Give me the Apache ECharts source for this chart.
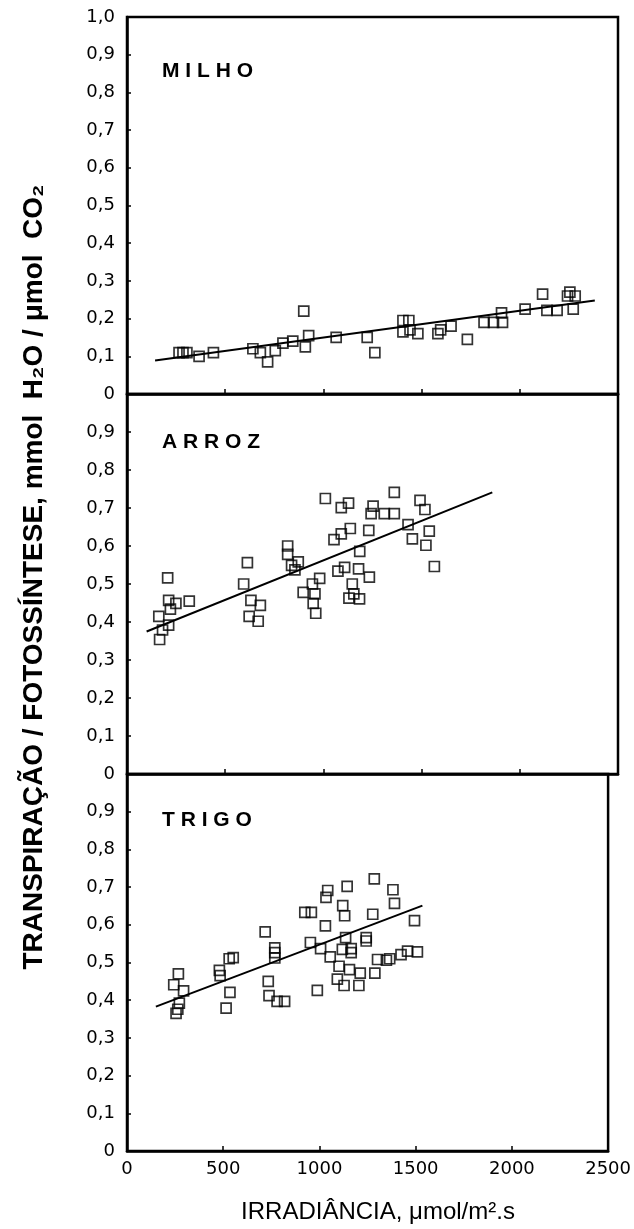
<!DOCTYPE html>
<html>
<head>
<meta charset="utf-8">
<title>Transpiração / Fotossíntese</title>
<script src="https://cdn.jsdelivr.net/npm/echarts@6/dist/echarts.min.js"></script>
<style>
  html, body { margin: 0; padding: 0; background: #fff; }
  #chartBox { width: 634px; height: 1229px; }
</style>
</head>
<body>
<div id="chartBox"></div>
<script>
  // x axis ticks (irradiância)
  var xTicks = [0, 500, 1000, 1500, 2000, 2500]
  var yTicks = [0, 0.1, 0.2, 0.3, 0.4, 0.5, 0.6, 0.7, 0.8, 0.9, 1.0]
  var panelNames = ['M I L H O', 'A R R O Z', 'T R I G O']

  // MILHO
  var milhoX = [265, 285, 305, 367, 440, 641, 679, 716, 755, 794, 844, 900, 908, 925, 1065, 1223, 1262,
    1405, 1435, 1405, 1441, 1481, 1583, 1597, 1650, 1733, 1818, 1866, 1912, 1907, 2027, 2116, 2138,
    2190, 2243, 2255, 2282, 2272]
  var milhoY = [0.11, 0.11, 0.11, 0.10, 0.11, 0.12, 0.11, 0.085, 0.115, 0.135, 0.14, 0.22, 0.125, 0.155, 0.15, 0.15, 0.11,
    0.195, 0.195, 0.165, 0.17, 0.16, 0.16, 0.17, 0.18, 0.145, 0.19, 0.19, 0.19, 0.215, 0.225, 0.265, 0.222,
    0.222, 0.26, 0.27, 0.26, 0.225]
  var milhoFit = [[143, 0.089], [2382, 0.248]]

  // ARROZ
  var arrozX = [162, 207, 212, 221, 249, 317, 181, 166, 212,
    613, 594, 631, 679, 622, 668,
    818, 818, 838, 872, 855, 897, 944, 948, 957, 961, 981,
    1010, 1091, 1128, 1137, 1091, 1054, 1185, 1231, 1253, 1243, 1310, 1361, 1361, 1492, 1517, 1431,
    1453, 1539, 1522, 1565, 1074, 1108, 1179, 1234, 1147, 1130, 1155, 1184]
  var arrozY = [0.415, 0.516, 0.457, 0.434, 0.449, 0.455, 0.379, 0.354, 0.392,
    0.556, 0.50, 0.457, 0.444, 0.415, 0.402,
    0.600, 0.578, 0.549, 0.558, 0.537, 0.478, 0.500, 0.449, 0.474, 0.423, 0.515,
    0.725, 0.701, 0.713, 0.646, 0.632, 0.617, 0.586, 0.641, 0.705, 0.685, 0.685, 0.685, 0.741, 0.720, 0.696, 0.656,
    0.619, 0.639, 0.602, 0.546, 0.534, 0.544, 0.540, 0.518, 0.500, 0.463, 0.474, 0.461]
  var arrozFit = [[100, 0.375], [1860, 0.741]]

  // TRIGO
  var trigoX = [267, 243, 294, 272, 264, 255,
    480, 484, 531, 552, 535, 515,
    718, 768, 768, 768, 734, 738, 780, 819,
    924, 958, 953, 989, 1006, 1031, 1043, 1034, 1056, 1102, 1093, 1128, 1121, 1131, 1144, 1136, 1119,
    1165, 1165, 1156, 1212, 1205, 1285, 1277, 1243, 1243, 1288, 1302, 1348, 1365, 1382, 1390, 1424,
    1458, 1494, 1509]
  var trigoY = [0.470, 0.441, 0.425, 0.392, 0.376, 0.365,
    0.479, 0.465, 0.510, 0.513, 0.421, 0.379,
    0.581, 0.539, 0.526, 0.512, 0.450, 0.412, 0.397, 0.397,
    0.633, 0.633, 0.553, 0.426, 0.537, 0.597, 0.691, 0.673, 0.515, 0.490, 0.456, 0.439, 0.651, 0.624, 0.702, 0.566, 0.535,
    0.537, 0.526, 0.481, 0.472, 0.439, 0.722, 0.628, 0.566, 0.557, 0.472, 0.508, 0.506, 0.510, 0.693, 0.657, 0.521,
    0.530, 0.611, 0.528]
  var trigoFit = [[150, 0.383], [1535, 0.651]]

  function pairs(xs, ys) {
    var out = []
    for (var i = 0; i < xs.length; i++) {
      out.push([xs[i], ys[i]])
    }
    return out
  }

  var chart = echarts.init(document.getElementById('chartBox'), null, { renderer: 'canvas' })

  // panel geometry
  var panels = [
    { top: 17, height: 377 },
    { top: 394, height: 380 },
    { top: 774, height: 377 }
  ]

  var grids = [], xAxes = [], yAxes = []
  panels.forEach(function (p, i) {
    grids.push({
      left: 127, right: 16, top: p.top, height: p.height,
      show: true, borderColor: '#000', borderWidth: 2.5, backgroundColor: 'transparent'
    })
    xAxes.push({
      gridIndex: i, type: 'value', min: xTicks[0], max: xTicks[xTicks.length - 1], interval: 500,
      axisLine: { show: true, lineStyle: { color: '#000', width: 2.5 } },
      axisTick: { show: true, inside: true, length: 5, lineStyle: { color: '#000', width: 1.5 } },
      splitLine: { show: false },
      axisLabel: {
        show: i === 2, margin: 9, color: '#000',
        fontFamily: 'DejaVu Sans', fontSize: 18,
        formatter: function (v) { return String(v) }   // no thousands separator
      }
    })
    yAxes.push({
      gridIndex: i, type: 'value', min: yTicks[0], max: yTicks[yTicks.length - 1], interval: 0.1,
      axisLine: { show: true, lineStyle: { color: '#000', width: 2.5 } },
      axisTick: { show: true, inside: true, length: 4, lineStyle: { color: '#000', width: 1.5 } },
      splitLine: { show: false },
      axisLabel: {
        margin: 12, color: '#000', fontFamily: 'DejaVu Sans', fontSize: 18,
        formatter: function (v) {
          if (v === 0) return '0'
          if (v > 0.99 && i > 0) return ''
          return v.toFixed(1).replace('.', ',')
        }
      }
    })
  })

  var markStyle = { color: 'transparent', borderColor: '#000', borderWidth: 1.7 }
  var fitStyle = { color: '#000', width: 2 }
  var sets = [
    [milhoX, milhoY, milhoFit],
    [arrozX, arrozY, arrozFit],
    [trigoX, trigoY, trigoFit]
  ]
  var series = []
  sets.forEach(function (s, i) {
    series.push({
      type: 'scatter', xAxisIndex: i, yAxisIndex: i,
      symbol: 'rect', symbolSize: 10, itemStyle: markStyle,
      data: pairs(s[0], s[1]), silent: true
    })
    series.push({
      type: 'line', xAxisIndex: i, yAxisIndex: i,
      symbol: 'none', lineStyle: fitStyle, data: s[2], silent: true
    })
  })

  var labelY = [71, 442, 820]
  var graphics = panelNames.map(function (n, i) {
    return {
      type: 'text', x: 162, y: labelY[i],
      style: { text: n, fill: '#000', font: 'bold 21px "Liberation Sans"', textVerticalAlign: 'middle' }
    }
  })
  // y title, rotated
  graphics.push({
    type: 'text', x: 34, y: 577, rotation: Math.PI / 2,
    style: {
      text: 'TRANSPIRAÇÃO / FOTOSSÍNTESE, mmol  H₂O / μmol  CO₂',
      fill: '#000', font: 'bold 28px "Liberation Sans"',
      textAlign: 'center', textVerticalAlign: 'middle'
    }
  })
  // x title
  graphics.push({
    type: 'text', x: 378, y: 1212,
    style: {
      text: 'IRRADIÂNCIA, μmol/m².s',
      fill: '#000', font: '24px "Liberation Sans"',
      textAlign: 'center', textVerticalAlign: 'middle'
    }
  })

  var option = {
    animation: false,
    backgroundColor: '#fff',
    grid: grids,
    xAxis: xAxes,
    yAxis: yAxes,
    series: series,
    graphic: graphics
  }

  chart.setOption(option)
</script>
</body>
</html>
